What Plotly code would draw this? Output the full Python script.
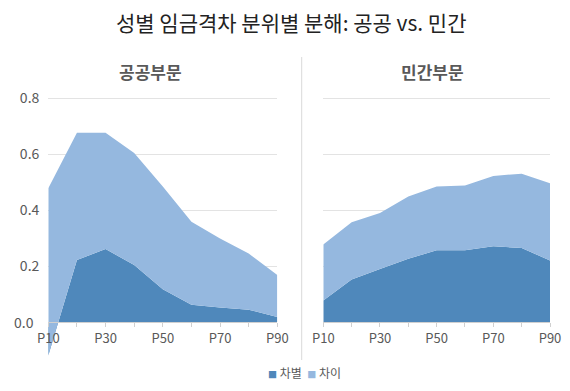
import plotly.graph_objects as go

# ---- data ----
categories = ["P10", "P20", "P30", "P40", "P50", "P60", "P70", "P80", "P90"]
tick_labels = ["P10", "", "P30", "", "P50", "", "P70", "", "P90"]

public_discrimination = [-0.120, 0.222, 0.261, 0.204, 0.117, 0.062, 0.052, 0.044, 0.018]
public_difference = [0.599, 0.455, 0.416, 0.401, 0.368, 0.297, 0.247, 0.201, 0.150]

private_discrimination = [0.077, 0.152, 0.190, 0.226, 0.257, 0.257, 0.271, 0.265, 0.220]
private_difference = [0.200, 0.205, 0.200, 0.223, 0.228, 0.232, 0.252, 0.266, 0.277]

series_names = ["차별", "차이"]
panel_titles = ["공공부문", "민간부문"]
y_ticks = [0.0, 0.2, 0.4, 0.6, 0.8]
y_tick_text = ["0.0", "0.2", "0.4", "0.6", "0.8"]

DARK = "#4f88bb"
LIGHT = "#95b8df"
GRID = "#e3e3e3"
TXT = "#595959"
FONT = "Noto Sans CJK KR"

# page body adds an 8px margin; size the figure to fill the remaining window
OFF = 8
W, H = 570 - OFF, 391 - OFF

def px_x(p):
    return (p - OFF) / W

def px_y(p):
    return (H - (p - OFF)) / H

YMIN, YMAX = -0.13, 0.81
Y0_PX = 322.0
K = 279.4
top_px = Y0_PX - YMAX * K
bot_px = Y0_PX - YMIN * K
ydom = [px_y(bot_px), px_y(top_px)]
xpos = px_y(Y0_PX)

fig = go.Figure()

panels = [
    ("x", "y", "pub", public_discrimination, public_difference),
    ("x2", "y2", "pri", private_discrimination, private_difference),
]
for xa, ya, sg, disc, diff in panels:
    fig.add_trace(go.Scatter(
        x=categories, y=disc, xaxis=xa, yaxis=ya, stackgroup=sg,
        mode="lines", line=dict(width=0, color=DARK), fillcolor=DARK,
        name=series_names[0], showlegend=False))
    fig.add_trace(go.Scatter(
        x=categories, y=diff, xaxis=xa, yaxis=ya, stackgroup=sg,
        mode="lines", line=dict(width=0, color=LIGHT), fillcolor=LIGHT,
        name=series_names[1], showlegend=False))

xdoms = [[px_x(48.3), px_x(277.3)], [px_x(323.3), px_x(550.0)]]

common_x = dict(
    type="category", range=[0, 8], tickmode="array",
    tickvals=categories, ticktext=tick_labels,
    ticks="outside", ticklen=4, tickcolor="#d0d0d0",
    showline=True, linecolor="#d0d0d0", linewidth=1,
    showgrid=False, zeroline=False,
    tickfont=dict(size=13, color=TXT, family=FONT),
    anchor="free", position=xpos, automargin=False, fixedrange=True,
)
fig.update_layout(
    xaxis=dict(domain=xdoms[0], **common_x),
    xaxis2=dict(domain=xdoms[1], **common_x),
    yaxis=dict(domain=ydom, range=[YMIN, YMAX], tickvals=y_ticks[1:], ticktext=y_tick_text[1:],
               showgrid=True, gridcolor=GRID, zeroline=False, showline=False,
               tickfont=dict(size=14, color=TXT, family=FONT), ticks="",
               anchor="x", automargin=False, ticklabelstandoff=8),
    yaxis2=dict(domain=ydom, range=[YMIN, YMAX], tickvals=y_ticks[1:], showticklabels=False,
                showgrid=True, gridcolor=GRID, zeroline=False, showline=False,
                anchor="x2", automargin=False),
)

annotations = [
    dict(text="성별 임금격차 분위별 분해: 공공 vs. 민간", x=px_x(290.5), y=px_y(22), xref="paper", yref="paper",
         showarrow=False, font=dict(size=21, color="#222222", family=FONT), xanchor="center", yanchor="middle"),
    dict(text="<b>" + panel_titles[0] + "</b>", x=px_x(150), y=px_y(71), xref="paper", yref="paper",
         showarrow=False, font=dict(size=17, color=TXT, family=FONT), xanchor="center", yanchor="middle"),
    dict(text="<b>" + panel_titles[1] + "</b>", x=px_x(432), y=px_y(71), xref="paper", yref="paper",
         showarrow=False, font=dict(size=17, color=TXT, family=FONT), xanchor="center", yanchor="middle"),
    dict(text=y_tick_text[0], x=px_x(36), y=px_y(Y0_PX), xref="paper", yref="paper",
         showarrow=False, font=dict(size=14, color=TXT, family=FONT), xanchor="right", yanchor="middle"),
    dict(text=(f"<span style='color:{DARK};font-size:9px'>■</span> {series_names[0]}  "
               f"<span style='color:{LIGHT};font-size:9px'>■</span> {series_names[1]}"),
         x=px_x(304), y=px_y(372), xref="paper", yref="paper",
         showarrow=False, font=dict(size=12, color=TXT, family=FONT), xanchor="center", yanchor="middle"),
]

fig.update_layout(
    width=W, height=H,
    margin=dict(l=0, r=0, t=0, b=0),
    paper_bgcolor="white", plot_bgcolor="rgba(0,0,0,0)",
    showlegend=False,
    annotations=annotations,
    shapes=[dict(type="line", xref="paper", yref="paper", x0=px_x(301.7), x1=px_x(301.7),
                 y0=px_y(360), y1=px_y(57), line=dict(color="#d9d9d9", width=1))],
    font=dict(family=FONT),
)

fig.write_html("out.html")
